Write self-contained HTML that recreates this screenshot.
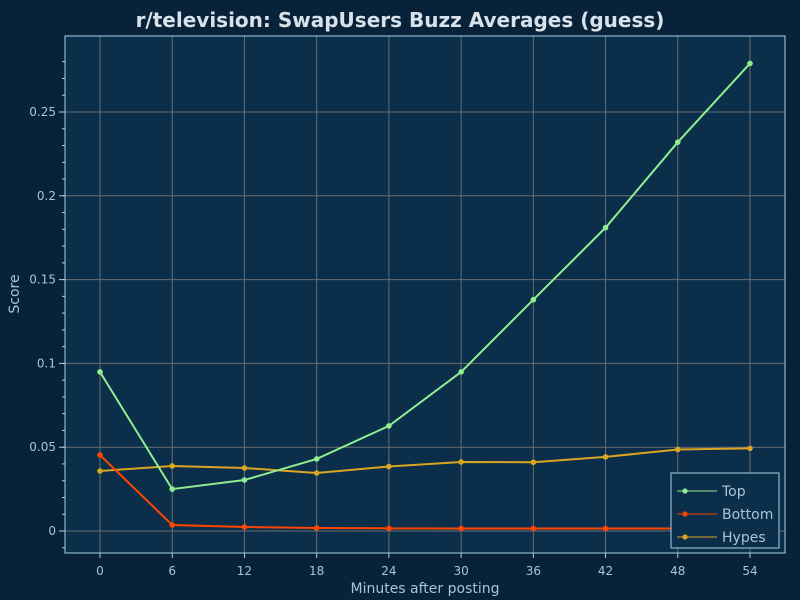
<!DOCTYPE html>
<html><head><meta charset="utf-8"><style>
body{margin:0;background:#082239;}
svg{display:block;font-family:"DejaVu Sans","Liberation Sans",sans-serif;}
</style></head><body>
<svg id="c" width="800" height="600">
<rect width="800" height="600" fill="#082239"/>
<text x="400" y="27" text-anchor="middle" font-size="20" font-weight="bold" fill="#d8e2ea">r/television: SwapUsers Buzz Averages (guess)</text>
<rect x="65" y="36" width="720" height="517" fill="#0b2e4b"/>
<g id="grid"></g><g id="series"></g>
<rect x="65" y="36" width="720" height="517" fill="none" stroke="#a8d4e4" stroke-width="1"/>
<text x="425" y="593" text-anchor="middle" font-size="14" fill="#a8c4d8">Minutes after posting</text>
<text x="19" y="294" text-anchor="middle" font-size="14" fill="#a8c4d8" transform="rotate(-90 19 294)">Score</text>
<g>
<rect x="671" y="473" width="108" height="75" fill="#0b2e4b" stroke="#a8d4e4"/>
<g><line x1="677" y1="491" x2="717" y2="491" stroke="#90ee90"/><circle cx="685" cy="491" r="2.6" fill="#90ee90"/><text x="722" y="496" font-size="14" fill="#a8c4d8">Top</text></g>
<g><line x1="677" y1="514" x2="717" y2="514" stroke="#ff4500"/><circle cx="685" cy="514" r="2.6" fill="#ff4500"/><text x="722" y="519" font-size="14" fill="#a8c4d8">Bottom</text></g>
<g><line x1="677" y1="537" x2="717" y2="537" stroke="#daa520"/><circle cx="685" cy="537" r="2.6" fill="#daa520"/><text x="722" y="542" font-size="14" fill="#a8c4d8">Hypes</text></g>
</g>
</svg>
<script>
const minutes=[0,6,12,18,24,30,36,42,48,54];
const topVals=[0.0949,0.025,0.0304,0.043,0.0627,0.0949,0.138,0.181,0.232,0.279];
const bottomVals=[0.0453,0.0036,0.0024,0.0018,0.0016,0.0015,0.0015,0.0015,0.0015,0.0015];
const hypesVals=[0.0358,0.0388,0.0376,0.0346,0.0385,0.0412,0.0410,0.0442,0.0486,0.0493];
const yTicks=[0,0.05,0.1,0.15,0.2,0.25];
const yTickLabels=["0","0.05","0.1","0.15","0.2","0.25"];
const NS="http://www.w3.org/2000/svg";
const X=v=>100+v*(650/54);
const Y=v=>531-v*(419/0.25);
function mk(t,a,p){const e=document.createElementNS(NS,t);for(const k in a)e.setAttribute(k,a[k]);p.appendChild(e);return e;}
const g=document.getElementById('grid'),s=document.getElementById('series');
minutes.forEach(m=>{
 const l=mk('line',{x1:X(m),x2:X(m),y1:36,y2:553,stroke:'#6a6e72','stroke-width':1},g);
 
 
 mk('line',{x1:X(m),x2:X(m),y1:553,y2:558,stroke:'#a8d4e4'},g);
 const t=mk('text',{x:X(m),y:575,'text-anchor':'middle','font-size':12,fill:'#a8c4d8'},g);t.textContent=m;
 
 
});
yTicks.forEach((v,i)=>{
 const l=mk('line',{x1:65,x2:785,y1:Y(v),y2:Y(v),stroke:'#6a6e72','stroke-width':1},g);
 
 
 mk('line',{x1:59,x2:65,y1:Y(v),y2:Y(v),stroke:'#a8d4e4'},g);
 const t=mk('text',{x:56,y:Y(v)+4,'text-anchor':'end','font-size':12,fill:'#a8c4d8'},g);t.textContent=yTickLabels[i];
 
 
});
for(let v=-0.01;v<=0.29;v+=0.01){const y=Y(v);if(y>36&&y<553)mk('line',{x1:62,x2:65,y1:y,y2:y,stroke:'#a8d4e4'},g);}
function series(vals,col,name){
 const p=mk('polyline',{points:minutes.map((m,i)=>X(m)+','+Y(vals[i])).join(' '),fill:'none',stroke:col,'stroke-width':2},s);
 
 
 minutes.forEach((m,i)=>{const c=mk('circle',{cx:X(m),cy:Y(vals[i]),r:2.8,fill:col},s);
 
 });
}
series(hypesVals,'#daa520','hypes');
series(bottomVals,'#ff4500','bottom');
series(topVals,'#90ee90','top');
</script>
</body></html>
